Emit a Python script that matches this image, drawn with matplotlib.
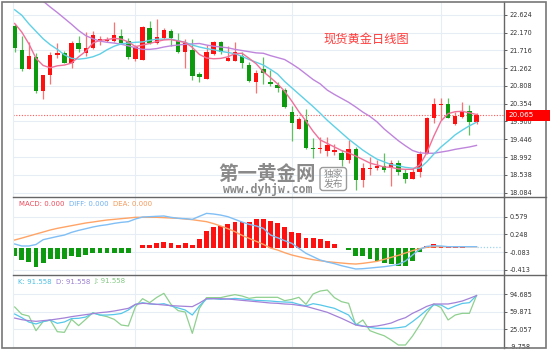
import numpy as np
import matplotlib
matplotlib.use("Agg")
import matplotlib.pyplot as plt
from matplotlib.patches import Rectangle, FancyBboxPatch

# ---------------- data ----------------
opens  = [22.34,21.73,21.24,21.55,20.68,21.09,21.60,21.65,21.39,21.90,21.65,21.78,21.95,21.95,21.95,22.08,21.95,21.50,21.47,22.29,
          21.90,22.03,22.21,21.95,21.67,21.73,21.11,20.99,21.62,21.93,21.44,21.44,21.57,21.34,20.91,21.24,20.91,20.83,20.71,20.14,
          19.71,19.94,19.23,19.20,19.15,19.12,19.10,18.92,19.20,18.41,18.69,18.72,18.77,18.72,18.84,18.59,18.44,18.61,19.07,19.99,
          20.32,20.35,19.84,20.02,20.17,19.89]
highs  = [22.39,22.08,21.93,21.65,21.09,21.67,21.90,21.70,21.95,22.08,22.18,22.21,22.08,22.06,22.44,22.26,22.03,21.85,22.34,22.46,
          22.52,22.29,22.26,22.16,22.01,22.01,21.16,21.85,21.95,21.95,21.83,21.93,21.67,21.42,21.22,21.55,21.22,20.91,20.76,20.30,
          20.02,20.22,19.48,19.51,19.51,19.33,19.17,19.43,19.25,18.84,19.00,18.92,19.10,18.92,18.92,18.69,18.72,19.15,20.02,20.50,
          20.50,20.50,20.14,20.40,20.32,20.12]
lows   = [21.67,21.19,21.24,20.63,20.48,20.86,21.52,21.39,21.27,21.67,21.57,21.75,21.85,21.93,21.93,21.90,21.50,21.44,21.47,21.88,
          21.88,22.01,21.83,21.65,21.27,20.96,20.91,20.99,21.60,21.62,21.44,21.44,21.27,20.91,20.63,20.86,20.81,20.65,20.25,19.40,
          19.71,19.20,18.97,19.10,19.02,19.05,18.77,18.84,18.16,18.23,18.54,18.67,18.61,18.26,18.54,18.33,18.44,18.49,19.07,19.86,
          19.94,19.99,19.81,19.99,19.56,19.84]
closes = [21.78,21.24,21.57,20.68,21.09,21.60,21.65,21.39,21.90,21.75,21.78,22.11,22.01,22.01,22.11,21.90,21.55,21.80,22.31,21.90,
          22.06,22.24,22.03,21.67,21.90,21.06,21.04,21.67,21.93,21.67,21.52,21.67,21.39,20.93,21.14,21.14,20.86,20.76,20.27,19.86,
          19.97,19.23,19.20,19.23,19.30,19.17,18.92,19.20,18.41,18.72,18.72,18.77,18.67,18.84,18.61,18.44,18.61,19.07,19.99,20.35,
          20.35,19.99,20.04,20.17,19.89,20.065]

ma5  = [22.40,22.18,21.88,21.51,21.33,21.27,21.32,21.34,21.39,21.55,21.69,21.90,21.97,21.99,22.02,22.00,21.93,21.81,21.85,21.89,
        21.94,21.98,21.99,21.95,21.92,21.79,21.61,21.52,21.50,21.51,21.55,21.63,21.64,21.51,21.37,21.17,21.02,20.86,20.67,20.42,
        20.15,19.91,19.65,19.43,19.34,19.25,19.16,19.10,19.02,18.93,18.84,18.79,18.74,18.73,18.69,18.68,18.68,18.79,19.10,19.53,
        19.91,20.10,20.15,20.16,20.12,20.08]
ma10 = [22.75,22.61,22.39,22.20,22.01,21.86,21.74,21.60,21.51,21.49,21.51,21.55,21.62,21.73,21.82,21.88,21.90,21.92,21.93,21.97,
        22.00,22.00,22.00,21.96,21.92,21.85,21.80,21.76,21.73,21.69,21.66,21.63,21.56,21.48,21.41,21.34,21.23,21.11,20.92,20.76,
        20.60,20.44,20.28,20.11,19.93,19.77,19.61,19.45,19.31,19.17,19.05,18.94,18.87,18.80,18.77,18.73,18.71,18.71,18.87,19.07,
        19.25,19.40,19.56,19.68,19.79,19.88]
ma20 = [23.64,23.46,23.31,23.14,22.97,22.82,22.68,22.53,22.38,22.22,22.09,22.01,21.95,21.92,21.90,21.87,21.83,21.78,21.74,21.74,
        21.76,21.80,21.83,21.85,21.87,21.88,21.89,21.85,21.82,21.80,21.78,21.74,21.71,21.68,21.65,21.64,21.58,21.53,21.48,21.37,
        21.25,21.11,20.97,20.86,20.70,20.59,20.49,20.39,20.27,20.14,20.03,19.89,19.71,19.56,19.41,19.28,19.16,19.10,19.09,19.09,
        19.12,19.15,19.19,19.22,19.25,19.29]

macd_hist = [-0.155,-0.23,-0.26,-0.355,-0.28,-0.22,-0.22,-0.22,-0.155,-0.17,-0.137,-0.105,-0.105,-0.105,-0.105,-0.105,-0.105,-0.012,0.05,0.05,
             0.094,0.112,0.08,0.06,0.08,0.05,0.157,0.312,0.38,0.405,0.443,0.486,0.486,0.48,0.536,0.54,0.505,0.456,0.38,0.30,
             0.28,0.175,0.175,0.157,0.13,0.069,-0.01,-0.043,-0.15,-0.155,-0.21,-0.243,-0.29,-0.305,-0.342,-0.335,-0.243,-0.086,0.03,0.063,
             0.04,0.01,0.008,0.005,-0.008,0.004]
diff = [0.07,0.032,0.032,0.06,0.15,0.18,0.21,0.237,0.287,0.324,0.355,0.387,0.412,0.43,0.455,0.474,0.487,0.537,0.574,0.58,
        0.587,0.593,0.568,0.55,0.543,0.53,0.587,0.642,0.63,0.61,0.58,0.53,0.48,0.437,0.406,0.362,0.237,0.187,0.131,0.082,
        -0.012,-0.105,-0.168,-0.23,-0.267,-0.298,-0.336,-0.367,-0.398,-0.392,-0.38,-0.367,-0.355,-0.336,-0.311,-0.249,-0.136,-0.03,0.025,0.037,
        0.032,0.019,0.019,0.019,0.019,0.019]
dea = [0.144,0.18,0.218,0.256,0.293,0.331,0.362,0.387,0.412,0.437,0.462,0.48,0.5,0.518,0.53,0.543,0.555,0.568,0.568,0.568,
       0.568,0.562,0.555,0.549,0.537,0.524,0.505,0.487,0.45,0.406,0.356,0.30,0.231,0.175,0.119,0.063,-0.006,-0.043,-0.093,-0.136,
       -0.168,-0.199,-0.224,-0.243,-0.261,-0.274,-0.286,-0.298,-0.305,-0.292,-0.274,-0.255,-0.217,-0.18,-0.143,-0.099,-0.055,-0.018,0.007,0.019,
       0.019,0.019,0.019,0.019,0.019,0.019]

k_vals = [55,47.8,39,35.3,40,43,36.6,39.3,46,46.5,49,57,53,53,54,56,63,74,77.5,75,
          74,75.5,71,67,63,53,71,84.8,85.4,84,84.8,86,84.8,83.5,82,81.5,80.8,79.5,78.8,78.2,
          74.2,71,75.5,73,69.6,66.3,59.7,53,35,31.3,28.6,26.6,26.6,26.6,28,30,40,51,63,73,
          73,65,71,76,77.5,91.558]
d_vals = [47,43.8,41.9,40.5,41.9,43.2,45.2,47.2,49.8,51.8,53.8,55.7,57.7,59,61,63.6,66.3,74.2,76.2,75.5,
          74.2,72.9,71.6,70.9,70.2,69.6,76.8,85.4,85.4,85.4,84.8,83.5,82.1,80.8,79.5,78.2,76.8,76.2,74.9,74.2,
          72.2,70.2,66.3,62.4,58.4,52.4,46.5,39.9,33.2,30.6,29.9,31.3,33.9,37.2,43.2,47.8,56.4,63,70.2,74.9,
          74.9,74.9,77.5,80.8,86,91.558]
j_vals = [69,54.5,51,22,40,43,20,18.7,44.5,32,44.5,57.7,53,49.8,44.5,33.2,31.3,69.6,85.4,77.5,
          88,96,74.2,61.7,59,16.7,66.3,87.5,87.5,87.5,90.7,93.4,90.7,86.1,88.1,88.1,88.1,88.1,81.5,84,
          88.1,74.2,94.7,100.6,102.6,87.5,79.5,76.2,33.2,43.2,22,16.7,12,3.4,-6.4,-6.4,11.4,33.2,56.4,74.9,
          67.6,43.2,53,56.4,56.4,91.558]

price_ticks = [22.624,22.170,21.716,21.262,20.808,20.354,19.900,19.446,18.992,18.538,18.084]
macd_ticks = [0.579,0.248,-0.083,-0.413]
kdj_ticks = [94.685,59.871,25.057,-9.758]
month_lines = [17,39,60]
last_price = 20.065
title = "现货黄金日线图"

# ---------------- style ----------------
W, H = 550, 351
RED, GREEN = "#ff1010", "#0e9a0e"
RED_W, GREEN_W = "#ff7070", "#5fc05f"
GRID = "#e6edf4"
FRAME = "#777777"
TICKFS = 4.7

fig = plt.figure(figsize=(W/100, H/100), dpi=100)
fig.patch.set_facecolor("white")

def ax_px(x0, y0, x1, y1, **kw):
    return fig.add_axes([x0/W, 1-y1/H, (x1-x0)/W, (y1-y0)/H], **kw)

XL = (-0.28, 68.87)
ax = ax_px(12.7, 2, 504, 197)
axm = ax_px(12.7, 197, 504, 275)
axk = ax_px(12.7, 275, 504, 348)

def style(a, ticks, fmt, ylim):
    a.set_xlim(*XL)
    a.set_ylim(*ylim)
    a.set_facecolor("white")
    a.set_xticks([])
    a.yaxis.tick_right()
    a.set_yticks(ticks)
    a.set_yticklabels([fmt.format(t) for t in ticks], fontsize=TICKFS, color="#333333")
    a.tick_params(axis="y", length=2, width=0.6, pad=2, colors="#444444", labelcolor="#333333")
    for t in ticks:
        a.axhline(t, color=GRID, lw=0.8, zorder=0)
    for m in month_lines:
        a.axvline(m, color=GRID, lw=0.8, zorder=0)
    for s in ["top", "bottom"]:
        a.spines[s].set_visible(False)
    a.spines["left"].set_color(GRID)
    a.spines["left"].set_linewidth(0.8)
    a.spines["right"].set_color("#666666")
    a.spines["right"].set_linewidth(1.0)

style(ax, price_ticks, "{:.3f}", (17.974, 22.948))
style(axm, macd_ticks, "{:.3f}", (-0.510, 0.948))
style(axk, kdj_ticks, "{:.3f}", (-12.33, 132.34))

x = np.arange(len(closes))
o = np.array(opens); c = np.array(closes); h = np.array(highs); l = np.array(lows)
up = c >= o
# candles
body_bot = np.minimum(o, c)
body_h = np.maximum(np.abs(c - o), 0.03)
ax.vlines(x[up], l[up], h[up], color=RED_W, lw=0.9, zorder=2)
ax.vlines(x[~up], l[~up], h[~up], color=GREEN_W, lw=0.9, zorder=2)
ax.bar(x[up], body_h[up], bottom=body_bot[up], width=0.62, color=RED, edgecolor="none", zorder=3)
ax.bar(x[~up], body_h[~up], bottom=body_bot[~up], width=0.62, color=GREEN, edgecolor="none", zorder=3)

ax.plot(x, ma20, color="#bf85dc", lw=1.0, zorder=4)
ax.plot(x, ma10, color="#5fd0e6", lw=1.0, zorder=4)
ax.plot(x, ma5, color="#f0709a", lw=1.0, zorder=4)

ax.axhline(last_price, color="#ff5a5a", lw=0.8, ls=(0, (1, 1.5)), zorder=1)

ax.text(0.72, 0.81, title, transform=ax.transAxes, ha="center", va="center",
        fontsize=8.8, color="#ff3a3a", family=["Noto Sans CJK SC", "DejaVu Sans"])

# MACD
hist = np.array(macd_hist)
cols = [RED if v >= 0 else GREEN for v in hist]
axm.bar(x, hist, width=0.68, color=cols, edgecolor="none", zorder=2)
axm.plot(x, dea, color="#ffa466", lw=1.0, zorder=3)
axm.plot(x, diff, color="#80bff5", lw=1.0, zorder=3)
axm.plot([x[-1], XL[1] - 0.3], [diff[-1], diff[-1]], color="#9fd4f0", lw=0.9, ls=(0, (1, 1.5)), zorder=3)

# KDJ
axk.plot(x, j_vals, color="#8fd08f", lw=0.9, zorder=3)
axk.plot(x, k_vals, color="#55c8ea", lw=0.9, zorder=4)
axk.plot(x, d_vals, color="#a382d8", lw=0.9, zorder=4)

# overlay in pixel coordinates for frame, legends, watermark, price tag
ov = fig.add_axes([0, 0, 1, 1], zorder=10)
ov.set_xlim(0, W); ov.set_ylim(H, 0); ov.axis("off"); ov.patch.set_alpha(0)

ov.add_patch(Rectangle((2, 2), 544, 346, fill=False, ec=FRAME, lw=1.2))
ov.plot([12.7, 546], [197, 197], color="#666666", lw=1.0)
ov.plot([12.7, 546], [275, 275], color="#666666", lw=1.0)

lf = dict(fontsize=5, va="center", ha="left")
ov.text(19, 204.5, "MACD: 0.000", color="#ee4a5a", **lf)
ov.text(69, 204.5, "DIFF: 0.000", color="#6fb0f0", **lf)
ov.text(113, 204.5, "DEA: 0.000", color="#f59a5a", **lf)
ov.text(18, 281.5, "K: 91.558", color="#4cc0e4", **lf)
ov.text(56.5, 281.5, "D: 91.558", color="#9a7fd2", **lf)
ov.text(94.5, 281.5, "J: 91.558", color="#82c882", **lf)

# price tag
ov.add_patch(Rectangle((505.5, 110), 44.5, 10.5, fc="#ff0000", ec="none"))
ov.text(508, 115.3, "{:.3f}".format(last_price), color="white", fontsize=5.2, va="center", ha="left")

# watermark
wm = "#8a8a8a"
ov.text(267.5, 175, "第一黄金网", color=wm, fontsize=14, fontweight="bold", ha="center", va="center",
        family=["Noto Sans CJK SC", "DejaVu Sans"])
ov.text(267.5, 190, "www.dyhjw.com", color=wm, fontsize=8.3, fontweight="bold", ha="center", va="center",
        family="DejaVu Sans Mono")
ov.add_patch(FancyBboxPatch((320, 167.5), 26.5, 23, boxstyle="round,pad=0,rounding_size=3",
                            fill=False, ec="#9a9a9a", lw=1.0))
ov.text(333.3, 173.8, "独家", color=wm, fontsize=7, ha="center", va="center", family=["Noto Sans CJK SC"])
ov.text(333.3, 184.3, "发布", color=wm, fontsize=7, ha="center", va="center", family=["Noto Sans CJK SC"])

fig.savefig("out.png", dpi=100)
